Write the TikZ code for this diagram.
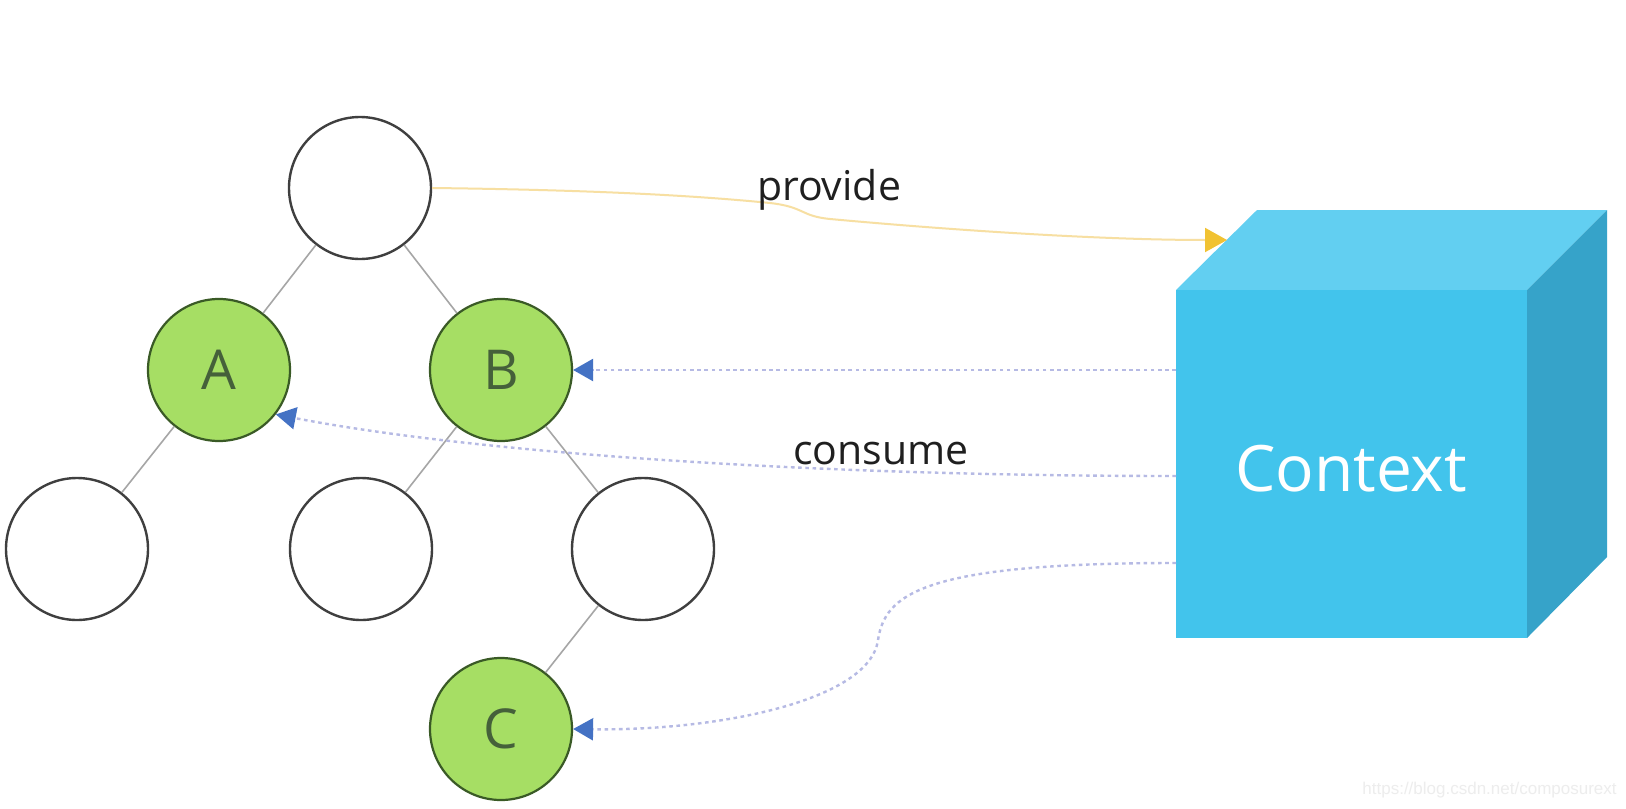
\documentclass[tikz,border=0pt]{standalone}
\usepackage{fontspec}
\setmainfont{Open Sans}
\newfontfamily\wmfont{Liberation Sans}
\usetikzlibrary{arrows.meta}
\definecolor{cubefront}{HTML}{42C4EC}
\definecolor{cubetop}{HTML}{62CFF1}
\definecolor{cubeside}{HTML}{36A3C9}
\definecolor{greenfill}{HTML}{A6DE64}
\definecolor{greenborder}{HTML}{3A5A26}
\definecolor{lettercol}{HTML}{45603A}
\definecolor{circborder}{HTML}{3F3F3F}
\definecolor{edgegray}{HTML}{A6A6A6}
\definecolor{yellowline}{HTML}{F7DFA2}
\definecolor{tipgold}{HTML}{F1C232}
\definecolor{dotcol}{HTML}{B6BAE4}
\definecolor{tipblue}{HTML}{4472C4}
\begin{document}
\begin{tikzpicture}[x=0.5pt,y=-0.5pt,
  plain/.style={circle, draw=circborder, line width=1.2pt, fill=white, minimum size=71pt, inner sep=0pt},
  marked/.style={circle, draw=greenborder, line width=1.1pt, fill=greenfill, minimum size=71pt, inner sep=0pt, text=lettercol, font=\fontsize{27.5}{30}\selectfont},
  treeedge/.style={draw=edgegray, line width=0.8pt},
  consumeline/.style={draw=dotcol, line width=1.2pt, dash pattern=on 1.8pt off 1.8pt, -{Triangle[length=10pt,width=11pt,color=tipblue]}},
  provideline/.style={draw=yellowline, line width=1pt, -{Triangle[length=11pt,width=12pt,color=tipgold]}},
  lbl/.style={font=\fontsize{20.5}{24}\selectfont, text=black!88, anchor=base, inner sep=0pt}]
\fill[white] (0,0) rectangle (1626,808);
\useasboundingbox (0,0) rectangle (1626,808);

% cube
\fill[cubetop] (1176,290) -- (1257,210) -- (1607,210) -- (1527,290) -- cycle;
\fill[cubeside] (1527,290) -- (1607,210) -- (1607,557) -- (1527,638) -- cycle;
\node (ctx) [fill=cubefront, minimum width=175.5pt, minimum height=174pt, inner sep=0pt] at (1351.5,464) {};
\node (ctxlabel) [text=white, font=\fontsize{32}{36}\selectfont, inner sep=0pt] at (1351,469) {Context};

% tree
\node (root) [plain] at (360,188) {};
\node (A) [marked] at (219,370) {A};
\node (B) [marked] at (501,370) {B};
\node (LL) [plain] at (77,549) {};
\node (BL) [plain] at (361,549) {};
\node (BR) [plain] at (643,549) {};
\node (C) [marked] at (501,729) {C};

\draw[treeedge] (root) -- (A);
\draw[treeedge] (root) -- (B);
\draw[treeedge] (A) -- (LL);
\draw[treeedge] (B) -- (BL);
\draw[treeedge] (B) -- (BR);
\draw[treeedge] (BR) -- (C);

% provide
\coordinate (ptip) at (1227,240);
\draw[provideline] (root.east) .. controls (600,190) and (700,196) .. (770,203) .. controls (805,207) and (800,216) .. (830,219) .. controls (950,230) and (1100,240) .. (ptip);
\node (provide) [lbl] at (829,200) {provide};

% consume
\coordinate (pB) at (1176,370);
\coordinate (pA) at (1176,476);
\coordinate (pC) at (1176,563);
\draw[consumeline] (pB) -- (B.east);
\draw[consumeline] (pA) .. controls (800,476) and (470,452) .. (A.-38);
\draw[consumeline] (pC) .. controls (920,563) and (885,595) .. (878,640) .. controls (870,700) and (720,731) .. (C.east);
\node (consume) [lbl] at (881,464) {consume};

% watermark
\node (wm) [font=\wmfont\fontsize{8.5}{10}\selectfont, text=black!7, anchor=east, inner sep=0pt] at (1617,790) {https://blog.csdn.net/composurext};
\end{tikzpicture}
\end{document}
